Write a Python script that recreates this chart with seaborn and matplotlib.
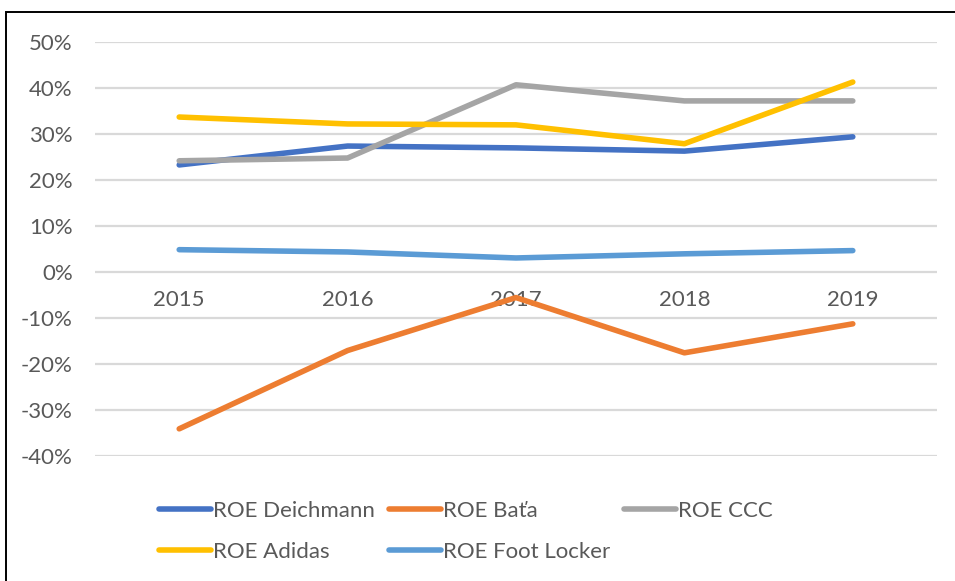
import pandas as pd
import numpy as np
import matplotlib.pyplot as plt
import seaborn as sns
from matplotlib.patches import Rectangle
from matplotlib.ticker import FuncFormatter

years = ["2015", "2016", "2017", "2018", "2019"]
roe_deichmann = [0.232, 0.273, 0.269, 0.262, 0.293]
roe_bata = [-0.341, -0.171, -0.056, -0.176, -0.113]
roe_ccc = [0.241, 0.247, 0.406, 0.371, 0.371]
roe_adidas = [0.336, 0.321, 0.319, 0.278, 0.412]
roe_footlocker = [0.048, 0.043, 0.030, 0.039, 0.046]

series_names = ["ROE Deichmann", "ROE Baťa", "ROE CCC", "ROE Adidas", "ROE Foot Locker"]
colors = ["#4472C4", "#ED7D31", "#A5A5A5", "#FFC000", "#5B9BD5"]

# long form pro seaborn
df = pd.DataFrame({"rok": years, "ROE Deichmann": roe_deichmann, "ROE Baťa": roe_bata,
                   "ROE CCC": roe_ccc, "ROE Adidas": roe_adidas, "ROE Foot Locker": roe_footlocker})
df = df.melt(id_vars="rok", var_name="serie", value_name="roe")

sns.set_style("white")
plt.rcParams['font.family'] = ['Lato', 'DejaVu Sans']
txt = "#595959"

fig = plt.figure(figsize=(9.55, 5.81), dpi=100)
ax = fig.add_axes([95 / 955, 1 - 456 / 581, 842 / 955, (456 - 41.5) / 581])

sns.lineplot(data=df, x="rok", y="roe", hue="serie", hue_order=series_names,
             palette=colors, linewidth=4, solid_capstyle="round", sort=False, ax=ax)

ax.set_xlim(-0.5, 4.5)
ax.set_ylim(-0.4, 0.5)
ax.set_yticks(np.arange(-0.4, 0.51, 0.1))
ax.yaxis.set_major_formatter(FuncFormatter(lambda v, p: "%d%%" % round(v * 100)))
ax.grid(axis="y", color="#d9d9d9", linewidth=1.6)
ax.set_axisbelow(True)
for s in ["top", "right", "left"]:
    ax.spines[s].set_visible(False)
ax.spines["bottom"].set_position(("data", 0))
ax.spines["bottom"].set_visible(False)
ax.tick_params(axis="x", length=0, pad=13, labelsize=16, labelcolor=txt)
ax.tick_params(axis="y", length=0, pad=16, labelsize=16, labelcolor=txt)
ax.set_xlabel("")
ax.set_ylabel("")

# legenda po radcich jako v Excelu
handles, labels = ax.get_legend_handles_labels()
order = [0, 3, 1, 4, 2]
leg = ax.legend([handles[i] for i in order], [labels[i] for i in order], ncol=3,
                loc="upper left", bbox_to_anchor=(150 / 955, 1 - 492 / 581),
                bbox_transform=fig.transFigure, frameon=False, fontsize=16,
                handlelength=2.35, handletextpad=0.1, columnspacing=0.6,
                labelspacing=0.95, borderaxespad=0)
for t in leg.get_texts():
    t.set_color(txt)
for h in leg.get_lines():
    h.set_linewidth(4)
    h.set_solid_capstyle("round")

fig.patches.append(Rectangle((6 / 955, -0.1), 1.2, 1.1 - 12 / 581, transform=fig.transFigure,
                             fill=False, edgecolor="black", linewidth=1.4, clip_on=False))

fig.savefig("out.png", dpi=100)
